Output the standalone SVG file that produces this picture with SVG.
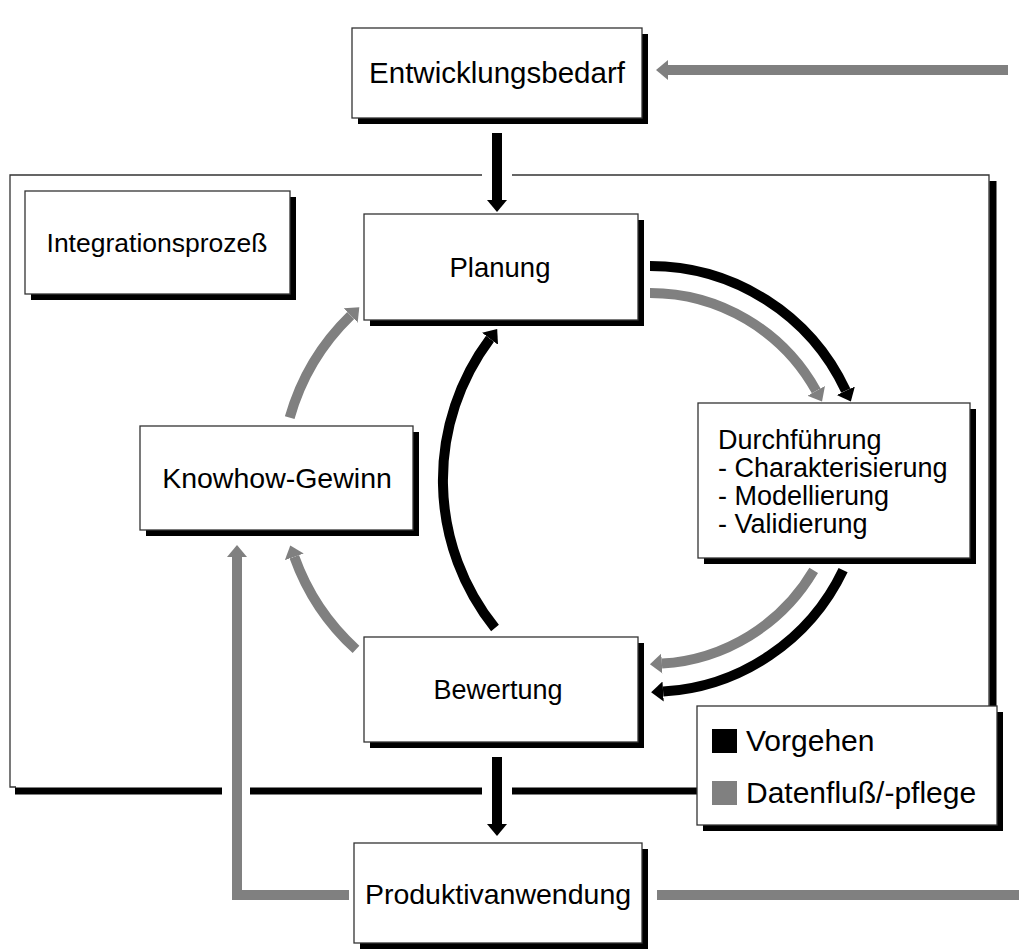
<svg xmlns="http://www.w3.org/2000/svg" width="1019" height="949" viewBox="0 0 1019 949">
<style>
.box{fill:#fff;stroke:#333;stroke-width:1.3}
.sh{fill:#000}
.t{font-family:"Liberation Sans",Arial,sans-serif;font-size:28px;fill:#000}
.tl{font-family:"Liberation Sans",Arial,sans-serif;font-size:27px;fill:#000}
.tg{font-family:"Liberation Sans",Arial,sans-serif;font-size:30px;fill:#000}
.blk{fill:none;stroke:#000;stroke-width:10}
.gry{fill:none;stroke:#808080;stroke-width:10}
.thin{fill:none;stroke:#333;stroke-width:1.3}
</style>
<defs>
<marker id="ab" markerUnits="userSpaceOnUse" viewBox="0 -11 13 22" markerWidth="13" markerHeight="22" refX="0" refY="0" orient="auto"><path d="M0,-10 L12,0 L0,10 z" fill="#000"/></marker>
<marker id="ag" markerUnits="userSpaceOnUse" viewBox="0 -11 13 22" markerWidth="13" markerHeight="22" refX="0" refY="0" orient="auto"><path d="M0,-10 L12,0 L0,10 z" fill="#808080"/></marker>
</defs>
<rect width="1019" height="949" fill="#fff"/>

<g id="frame">
<path class="thin" d="M482,175 L10,175 L10,787 L16,787"/>
<path class="thin" d="M512,175 L989,175 L989,706"/>
<path d="M993,181 L993,706" stroke="#000" stroke-width="7" fill="none"/>
<path d="M15,791 L222,791 M250,791 L482,791 M512,791 L700,791" stroke="#000" stroke-width="7" fill="none"/>
</g>

<g id="connectors">
<path class="gry" d="M1008,70 L668,70" marker-end="url(#ag)"/>
<path class="blk" d="M497,133 L497,200" marker-end="url(#ab)"/>
<path class="blk" d="M497,757 L497,824" marker-end="url(#ab)"/>
<path class="gry" d="M349,895 L237,895 L237,557" stroke-linejoin="miter" marker-end="url(#ag)"/>
<path class="gry" d="M657,895 L1019,895"/>
<path class="blk" d="M650,266 A216,216 0 0 1 845.8,390.7" marker-end="url(#ab)"/>
<path class="gry" d="M650,293 A190,190 0 0 1 816.2,390.9" marker-end="url(#ag)"/>
<path class="blk" d="M843.1,570.1 A214,214 0 0 1 663.1,691.6" marker-end="url(#ab)"/>
<path class="gry" d="M813.7,570.4 A190,190 0 0 1 661.9,663.6" marker-end="url(#ag)"/>
<path class="blk" d="M495,628 A236,236 0 0 1 490,338.7" marker-end="url(#ab)"/>
<path class="gry" d="M289.7,417.7 A229,229 0 0 1 350.7,315.5" marker-end="url(#ag)"/>
<path class="gry" d="M356,649.4 A229,229 0 0 1 294.3,556.8" marker-end="url(#ag)"/>
</g>

<g id="entwicklungsbedarf">
<rect class="sh" x="358" y="34" width="290" height="90"/>
<rect class="box" x="352" y="28" width="290" height="90"/>
<text class="t" x="497" y="83" text-anchor="middle" style="font-size:29.5px">Entwicklungsbedarf</text>
</g>

<g id="integrationsprozess">
<rect class="sh" x="31" y="197" width="265" height="103"/>
<rect class="box" x="25" y="191" width="265" height="103"/>
<text class="t" x="157" y="252" text-anchor="middle" style="font-size:26.5px">Integrationsprozeß</text>
</g>

<g id="planung">
<rect class="sh" x="370" y="220" width="274" height="106"/>
<rect class="box" x="364" y="214" width="274" height="106"/>
<text class="t" x="500" y="277" text-anchor="middle" style="font-size:27.5px">Planung</text>
</g>

<g id="knowhow">
<rect class="sh" x="146" y="432" width="273" height="104"/>
<rect class="box" x="140" y="426" width="273" height="104"/>
<text class="t" x="277" y="488" text-anchor="middle" style="font-size:28.5px">Knowhow-Gewinn</text>
</g>

<g id="durchfuehrung">
<rect class="sh" x="704" y="409" width="272" height="155"/>
<rect class="box" x="698" y="403" width="272" height="155"/>
<text class="tl" x="718" y="449">Durchführung</text>
<text class="tl" x="718" y="477">- Charakterisierung</text>
<text class="tl" x="718" y="505">- Modellierung</text>
<text class="tl" x="718" y="533">- Validierung</text>
</g>

<g id="bewertung">
<rect class="sh" x="370" y="643" width="274" height="105"/>
<rect class="box" x="364" y="637" width="274" height="105"/>
<text class="t" x="498" y="699" text-anchor="middle" style="font-size:27px">Bewertung</text>
</g>

<g id="legende">
<rect class="sh" x="703" y="712" width="300" height="119"/>
<rect class="box" x="697" y="706" width="300" height="119"/>
<rect x="712" y="729" width="25" height="24" fill="#000"/>
<text class="tg" x="746" y="751">Vorgehen</text>
<rect x="712" y="781" width="25" height="24" fill="#808080"/>
<text class="tg" x="746" y="803">Datenfluß/-pflege</text>
</g>

<g id="produktivanwendung">
<rect class="sh" x="360" y="849" width="288" height="100"/>
<rect class="box" x="354" y="843" width="288" height="100"/>
<text class="t" x="498" y="904" text-anchor="middle" style="font-size:28.5px">Produktivanwendung</text>
</g>
</svg>
